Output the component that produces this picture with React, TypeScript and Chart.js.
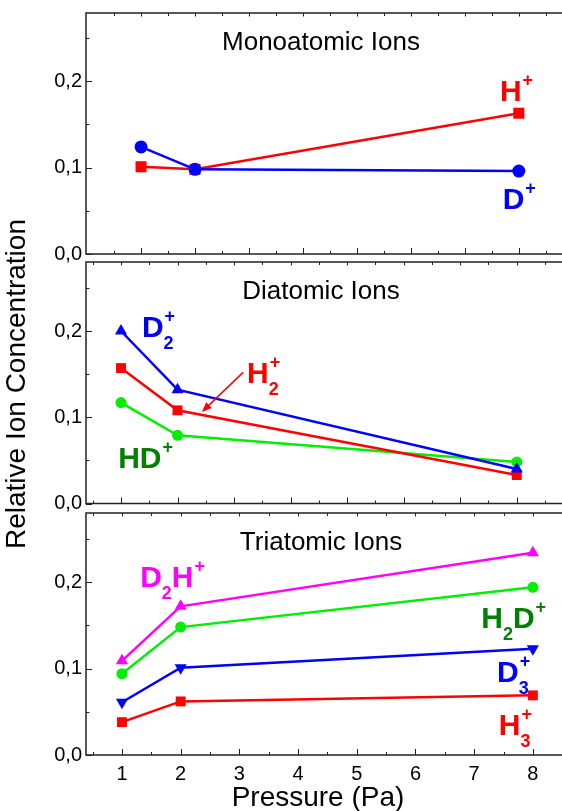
import React, { useEffect, useRef } from "react";
import { Chart, registerables } from "chart.js";

Chart.register(...registerables);

// ---------- data ----------
const pressure = [1, 2, 8];

const monoDplus = [0.124, 0.098, 0.096];
const monoHplus = [0.101, 0.098, 0.163];

const diaD2plus = [0.2, 0.132, 0.04];
const diaH2plus = [0.157, 0.108, 0.033];
const diaHDplus = [0.117, 0.079, 0.048];

const triD2Hplus = [0.109, 0.172, 0.234];
const triH2Dplus = [0.094, 0.148, 0.194];
const triD3plus = [0.061, 0.101, 0.123];
const triH3plus = [0.038, 0.062, 0.069];

const xMajorTicks = [1, 2, 3, 4, 5, 6, 7, 8];
const xMinorTicks = [0.5, 1.5, 2.5, 3.5, 4.5, 5.5, 6.5, 7.5, 8.5];
const yMajorTicks = [0, 0.1, 0.2];
const yMinorTicks = [0.05, 0.15, 0.25];

const panelTitles = ["Monoatomic Ions", "Diatomic Ions", "Triatomic Ions"];
const xAxisTitle = "Pressure (Pa)";
const yAxisTitle = "Relative Ion Concentration";

// ---------- styles ----------
const RED = "#ff0000";
const BLUE = "#0000ff";
const GREEN = "#00ee00";
const DKGREEN = "#008000";
const MAGENTA = "#ff00ff";
const FONT = '"Liberation Sans", Arial, Helvetica, sans-serif';
const FRAME = "#222222";

type Part = { main: string; sub?: string; sup?: string };
type IonLabel = { x: number; y: number; color: string; parts: Part[] };
type Arrow = { x1: number; y1: number; x2: number; y2: number; color: string };
type Series = {
  data: number[];
  color: string;
  style: string;
  radius: number;
  rotation?: number;
};
type Panel = {
  top: number;
  height: number;
  padTop: number;
  padBottom: number;
  xMin: number;
  xMax: number;
  yMax: number;
  showXLabels: boolean;
  title: string;
  series: Series[];
  labels: IonLabel[];
  arrows: Arrow[];
};

const panels: Panel[] = [
  {
    top: 0,
    height: 268,
    padTop: 13,
    padBottom: 14,
    xMin: -0.02,
    xMax: 8.8,
    yMax: 0.279,
    showXLabels: false,
    title: panelTitles[0],
    series: [
      { data: monoDplus, color: BLUE, style: "circle", radius: 6.5 },
      { data: monoHplus, color: RED, style: "rect", radius: 7.8 },
    ],
    labels: [
      { x: 7.65, y: 0.177, color: RED, parts: [{ main: "H", sup: "+" }] },
      { x: 7.7, y: 0.052, color: BLUE, parts: [{ main: "D", sup: "+" }] },
    ],
    arrows: [],
  },
  {
    top: 250,
    height: 268,
    padTop: 12,
    padBottom: 14.5,
    xMin: 0.381,
    xMax: 8.8,
    yMax: 0.28,
    showXLabels: false,
    title: panelTitles[1],
    series: [
      { data: diaD2plus, color: BLUE, style: "triangle", radius: 7 },
      { data: diaH2plus, color: RED, style: "rect", radius: 7 },
      { data: diaHDplus, color: GREEN, style: "circle", radius: 5.5 },
    ],
    labels: [
      { x: 1.37, y: 0.193, color: BLUE, parts: [{ main: "D", sub: "2", sup: "+" }] },
      { x: 3.23, y: 0.1395, color: RED, parts: [{ main: "H", sub: "2", sup: "+" }] },
      { x: 0.95, y: 0.041, color: DKGREEN, parts: [{ main: "HD", sup: "+" }] },
    ],
    arrows: [{ x1: 3.16, y1: 0.152, x2: 2.43, y2: 0.106, color: RED }],
  },
  {
    top: 500,
    height: 311,
    padTop: 13,
    padBottom: 0,
    xMin: 0.387,
    xMax: 8.496,
    yMax: 0.28,
    showXLabels: true,
    title: panelTitles[2],
    series: [
      { data: triD2Hplus, color: MAGENTA, style: "triangle", radius: 7 },
      { data: triH2Dplus, color: GREEN, style: "circle", radius: 5.5 },
      { data: triD3plus, color: BLUE, style: "triangle", radius: 7, rotation: 180 },
      { data: triH3plus, color: RED, style: "rect", radius: 7 },
    ],
    labels: [
      { x: 1.31, y: 0.194, color: MAGENTA, parts: [{ main: "D", sub: "2" }, { main: "H", sup: "+" }] },
      { x: 7.12, y: 0.147, color: DKGREEN, parts: [{ main: "H", sub: "2" }, { main: "D", sup: "+" }] },
      { x: 7.39, y: 0.084, color: BLUE, parts: [{ main: "D", sub: "3", sup: "+" }] },
      { x: 7.42, y: 0.023, color: RED, parts: [{ main: "H", sub: "3", sup: "+" }] },
    ],
    arrows: [],
  },
];

const MAIN_SIZE = 30;
const SCRIPT_SIZE = 18;
const SUP_RISE = 15;
const SUB_DROP = 12;

function drawIonLabel(ctx: CanvasRenderingContext2D, px: number, py: number, lab: IonLabel) {
  let cx = px;
  ctx.fillStyle = lab.color;
  ctx.textAlign = "left";
  ctx.textBaseline = "alphabetic";
  for (const p of lab.parts) {
    ctx.font = `bold ${MAIN_SIZE}px ${FONT}`;
    ctx.fillText(p.main, cx, py);
    cx += ctx.measureText(p.main).width;
    ctx.font = `bold ${SCRIPT_SIZE}px ${FONT}`;
    let w = 0;
    if (p.sup) {
      ctx.fillText(p.sup, cx + 1, py - SUP_RISE);
      w = Math.max(w, ctx.measureText(p.sup).width + 1);
    }
    if (p.sub) {
      ctx.fillText(p.sub, cx, py + SUB_DROP);
      w = Math.max(w, ctx.measureText(p.sub).width);
    }
    cx += w;
  }
}

const framePlugin = {
  id: "frame",
  beforeDatasetsDraw(chart: any, _args: any, opts: any) {
    const { ctx, chartArea: a } = chart;
    const xs = chart.scales.x;
    const ys = chart.scales.y;
    ctx.save();
    ctx.strokeStyle = FRAME;
    ctx.lineWidth = 1.5;
    ctx.beginPath();
    ctx.moveTo(a.right + 5, a.top);
    ctx.lineTo(a.left, a.top);
    ctx.lineTo(a.left, a.bottom);
    ctx.lineTo(a.right + 5, a.bottom);
    ctx.stroke();
    ctx.lineWidth = 1;
    ctx.beginPath();
    for (const v of yMajorTicks) {
      const py = Math.round(ys.getPixelForValue(v)) + 0.5;
      if (py < a.top || py > a.bottom + 1) continue;
      ctx.moveTo(a.left, py);
      ctx.lineTo(a.left + 6, py);
    }
    for (const v of yMinorTicks) {
      const py = Math.round(ys.getPixelForValue(v)) + 0.5;
      if (py < a.top || py > a.bottom) continue;
      ctx.moveTo(a.left, py);
      ctx.lineTo(a.left + 3.5, py);
    }
    for (const v of xMajorTicks) {
      const px = Math.round(xs.getPixelForValue(v)) + 0.5;
      if (px < a.left || px > a.right) continue;
      ctx.moveTo(px, a.bottom);
      ctx.lineTo(px, a.bottom - 6);
      ctx.moveTo(px, a.top);
      ctx.lineTo(px, a.top + 3.5);
    }
    for (const v of xMinorTicks) {
      const px = Math.round(xs.getPixelForValue(v)) + 0.5;
      if (px < a.left || px > a.right) continue;
      ctx.moveTo(px, a.bottom);
      ctx.lineTo(px, a.bottom - 3);
      ctx.moveTo(px, a.top);
      ctx.lineTo(px, a.top + 3);
    }
    ctx.stroke();

    // panel title
    ctx.fillStyle = "#000";
    ctx.font = `26px ${FONT}`;
    ctx.textAlign = "center";
    ctx.textBaseline = "alphabetic";
    ctx.fillText(opts.title, (a.left + a.right) / 2 - 3, a.top + 37);
    ctx.restore();
  },
  afterDatasetsDraw(chart: any, _args: any, opts: any) {
    const { ctx } = chart;
    const xs = chart.scales.x;
    const ys = chart.scales.y;
    ctx.save();
    for (const ar of opts.arrows as Arrow[]) {
      const x1 = xs.getPixelForValue(ar.x1);
      const y1 = ys.getPixelForValue(ar.y1);
      const x2 = xs.getPixelForValue(ar.x2);
      const y2 = ys.getPixelForValue(ar.y2);
      const ang = Math.atan2(y2 - y1, x2 - x1);
      const hl = 10;
      const hw = 4;
      const bx = x2 - Math.cos(ang) * hl;
      const by = y2 - Math.sin(ang) * hl;
      ctx.strokeStyle = ar.color;
      ctx.fillStyle = ar.color;
      ctx.lineWidth = 1.5;
      ctx.beginPath();
      ctx.moveTo(x1, y1);
      ctx.lineTo(bx, by);
      ctx.stroke();
      ctx.beginPath();
      ctx.moveTo(x2, y2);
      ctx.lineTo(bx + Math.sin(ang) * hw, by - Math.cos(ang) * hw);
      ctx.lineTo(bx - Math.sin(ang) * hw, by + Math.cos(ang) * hw);
      ctx.closePath();
      ctx.fill();
    }
    for (const lab of opts.labels as IonLabel[]) {
      drawIonLabel(ctx, xs.getPixelForValue(lab.x), ys.getPixelForValue(lab.y), lab);
    }
    ctx.restore();
  },
};

function PanelChart({ panel }: { panel: Panel }) {
  const ref = useRef<HTMLCanvasElement | null>(null);
  useEffect(() => {
    if (!ref.current) return;
    const chart = new Chart(ref.current, {
      type: "line",
      data: {
        datasets: panel.series.map((s) => ({
          data: pressure.map((p, i) => ({ x: p, y: s.data[i] })),
          borderColor: s.color,
          backgroundColor: s.color,
          borderWidth: 2.5,
          pointStyle: s.style as any,
          pointRadius: s.radius,
          pointRotation: s.rotation || 0,
          pointBorderWidth: 0,
          pointBackgroundColor: s.color,
          tension: 0,
          fill: false,
          clip: false as any,
        })),
      },
      options: {
        responsive: false,
        animation: false,
        devicePixelRatio: 1,
        layout: {
          autoPadding: false,
          padding: { left: 0, right: 0, top: panel.padTop, bottom: panel.padBottom },
        },
        plugins: {
          legend: { display: false },
          tooltip: { enabled: false },
          frame: { title: panel.title, labels: panel.labels, arrows: panel.arrows },
        } as any,
        scales: {
          x: {
            type: "linear",
            min: panel.xMin,
            max: panel.xMax,
            display: panel.showXLabels,
            grid: { display: false, drawTicks: false },
            border: { display: false },
            afterBuildTicks: (scale: any) => {
              scale.ticks = xMajorTicks.map((value) => ({ value }));
            },
            afterFit: (scale: any) => {
              scale.height = panel.showXLabels ? 56 : 0;
              scale.paddingLeft = 0;
              scale.paddingRight = 0;
              scale.paddingTop = 0;
              scale.paddingBottom = 0;
            },
            ticks: {
              color: "#000",
              padding: 7,
              font: { family: FONT, size: 20 },
              maxRotation: 0,
              autoSkip: false,
              callback: (v: any) => String(v),
            },
          },
          y: {
            type: "linear",
            min: 0,
            max: panel.yMax,
            grid: { display: false, drawTicks: false },
            border: { display: false },
            afterBuildTicks: (scale: any) => {
              scale.ticks = yMajorTicks.map((value) => ({ value }));
            },
            afterFit: (scale: any) => {
              scale.width = 86;
              scale.paddingLeft = 0;
              scale.paddingRight = 0;
              scale.paddingTop = 0;
              scale.paddingBottom = 0;
            },
            ticks: {
              color: "#000",
              padding: 4,
              font: { family: FONT, size: 20 },
              callback: (v: any) => Number(v).toFixed(1).replace(".", ","),
            },
          },
        },
      },
      plugins: [framePlugin as any],
    });
    return () => chart.destroy();
  }, [panel]);
  return (
    <canvas
      ref={ref}
      width={562}
      height={panel.height}
      style={{ position: "absolute", left: 0, top: panel.top, width: 562, height: panel.height }}
    />
  );
}

export default function App() {
  return (
    <div
      style={{
        position: "fixed",
        left: 0,
        top: 0,
        width: 562,
        height: 811,
        background: "#fff",
        overflow: "hidden",
        fontFamily: FONT,
      }}
    >
      {panels.map((p, i) => (
        <PanelChart key={i} panel={p} />
      ))}
      <div style={{ position: "absolute", left: 16.3, top: 384, width: 0, height: 0 }}>
        <div
          style={{
            position: "absolute",
            left: 0,
            top: 0,
            transform: "translate(-50%, -50%) rotate(-90deg)",
            whiteSpace: "nowrap",
            fontSize: 28,
            lineHeight: "28px",
            color: "#000",
          }}
        >
          {yAxisTitle}
        </div>
      </div>
      <div
        style={{
          position: "absolute",
          left: 0,
          top: 783,
          width: 636,
          textAlign: "center",
          whiteSpace: "nowrap",
          fontSize: 28,
          lineHeight: "28px",
          color: "#000",
        }}
      >
        {xAxisTitle}
      </div>
    </div>
  );
}
